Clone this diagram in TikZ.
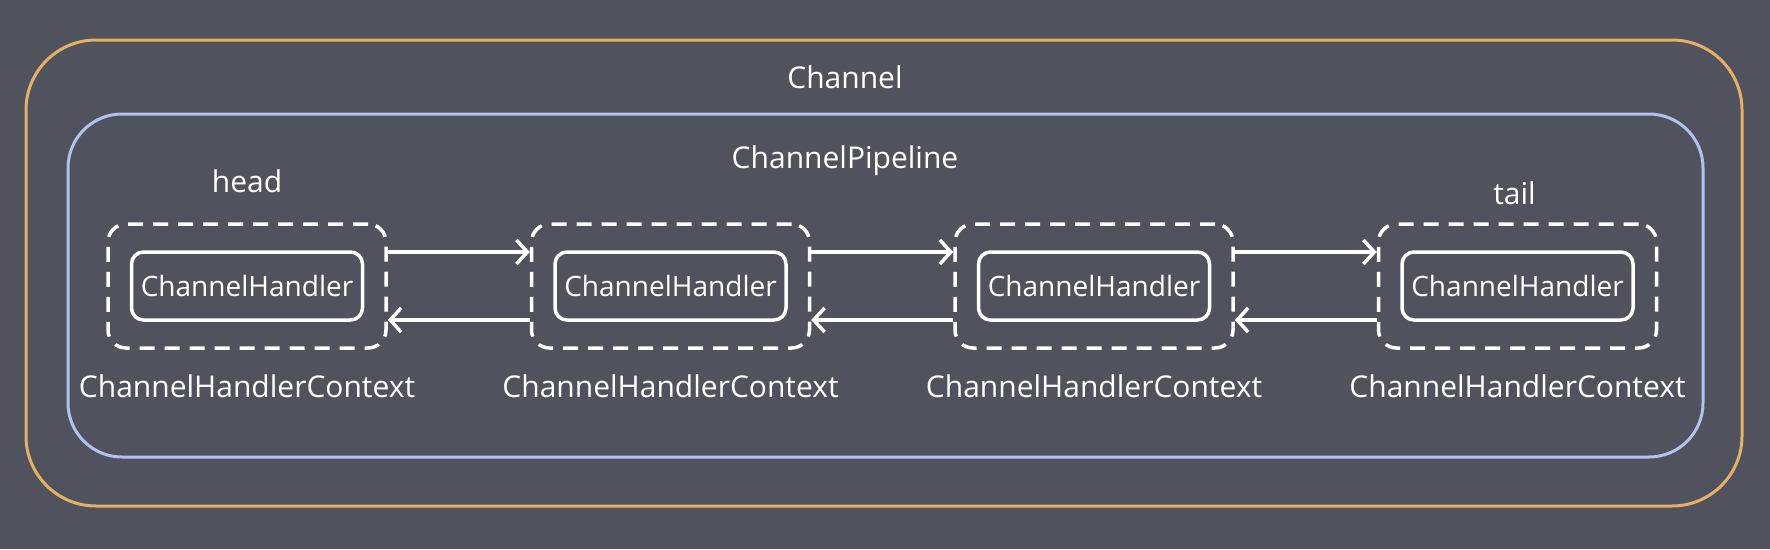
\documentclass[tikz,border=0pt]{standalone}
\usepackage{fontspec}
\setmainfont{Open Sans}
\usetikzlibrary{positioning,arrows.meta}
\definecolor{bggrey}{HTML}{50535E}
\definecolor{orangeline}{HTML}{E6B064}
\definecolor{blueline}{HTML}{B4C0F0}

\begin{document}
\begin{tikzpicture}[x=1pt,y=-1pt,
    frame/.style={rounded corners=#1, line width=3pt, minimum width=0pt},
    ctx/.style={draw=white, line width=3.5pt, dash pattern=on 15pt off 10pt, rounded corners=18pt, minimum width=278pt, minimum height=124pt},
    handler/.style={draw=white, line width=3.5pt, rounded corners=12pt, minimum width=231pt, minimum height=68pt, text=white, font=\fontsize{28}{33}\selectfont},
    lbl/.style={text=white, anchor=base, font=\fontsize{30}{36}\selectfont},
    link/.style={draw=white, line width=3.5pt, -{Straight Barb[length=11pt,width=24pt]}}]

    \fill[bggrey] (0,0) rectangle (1770,549);
    \useasboundingbox (0,0) rectangle (1770,549);

    \node[frame=70pt,draw=orangeline,minimum width=1716pt,minimum height=466pt] (Ch) at (884,273) {};
    \node[frame=54pt,draw=blueline,minimum width=1635pt,minimum height=343pt] (P) at (885.5,285.5) {};
    \node[lbl] at (845,88) {Channel};
    \node[lbl] at (845,168) {ChannelPipeline};

    \node[ctx] (C1) at (247,286) {};
    \node[ctx,right=142pt of C1] (C2) {};
    \node[ctx,right=142pt of C2] (C3) {};
    \node[ctx,right=142pt of C3] (C4) {};

    \node[handler] (H1) at (C1) {ChannelHandler};
    \node[handler] (H2) at (C2) {ChannelHandler};
    \node[handler] (H3) at (C3) {ChannelHandler};
    \node[handler] (H4) at (C4) {ChannelHandler};

    \node[lbl] (L1) at ([yshift=-48pt]C1.south) {ChannelHandlerContext};
    \node[lbl] (L2) at ([yshift=-48pt]C2.south) {ChannelHandlerContext};
    \node[lbl] (L3) at ([yshift=-48pt]C3.south) {ChannelHandlerContext};
    \node[lbl] (L4) at ([yshift=-48pt]C4.south) {ChannelHandlerContext};

    \node[lbl] (head) at ([yshift=30pt]C1.north) {head};
    \node[lbl] (tail) at ([xshift=-3pt,yshift=18pt]C4.north) {tail};

    \foreach \a/\b in {C1/C2,C2/C3,C3/C4}{
        \draw[link] ([yshift=34pt]\a.east) -- ([yshift=34pt]\b.west);
        \draw[link] ([yshift=-34pt]\b.west) -- ([yshift=-34pt]\a.east);
    }
\end{tikzpicture}
\end{document}
